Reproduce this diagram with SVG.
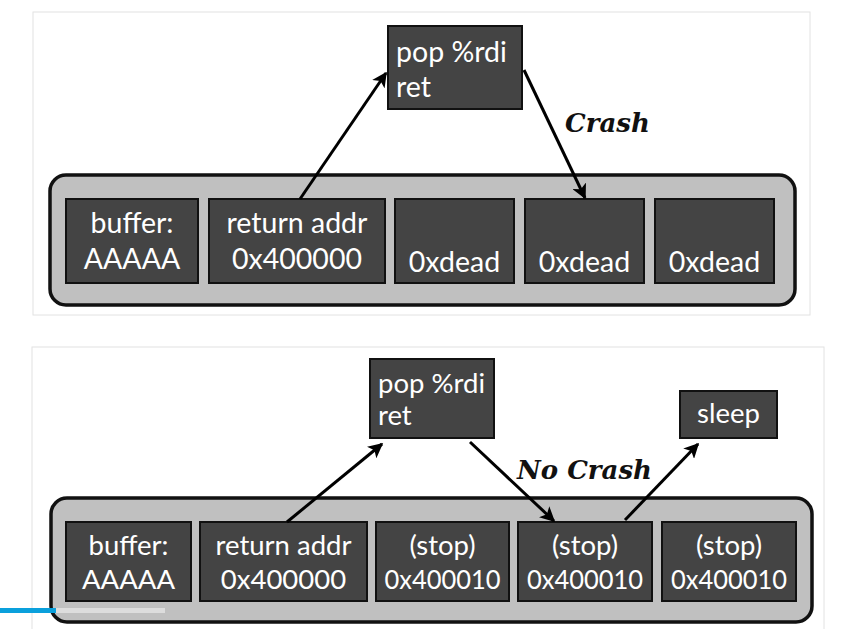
<svg xmlns="http://www.w3.org/2000/svg" width="859" height="629" viewBox="0 0 859 629">
<defs>
<style>
.card{fill:#ffffff;stroke:#e2e2e2;stroke-width:1}
.stack{fill:#c0c0c0;stroke:#111;stroke-width:3.5}
.box{fill:#444444;stroke:#111;stroke-width:2}
.t{font-family:Lato,"Open Sans",sans-serif;font-size:28.5px;fill:#ffffff}
.b{font-size:27.5px}
.c{text-anchor:middle}
.edge{stroke:#000;stroke-width:3;fill:none;marker-end:url(#ah)}
.lbl{font-family:"DejaVu Serif",serif;font-style:italic;font-weight:bold;font-size:26px;fill:#111}
</style>
<marker id="ah" viewBox="0 0 10 10" refX="9" refY="5" markerWidth="5" markerHeight="5" orient="auto" markerUnits="strokeWidth">
<path d="M0,0 L10,5 L0,10 L2.5,5 z" fill="#000"/>
</marker>
</defs>
<rect width="859" height="629" fill="#ffffff"/>
<rect class="card" x="33" y="12" width="777" height="303"/>
<rect class="card" x="32" y="347" width="792" height="290"/>

<!-- top diagram -->
<g id="stack1"><rect class="stack" x="50" y="175" width="745" height="130" rx="16"/></g>
<g id="t_buffer"><rect class="box" x="66" y="199" width="132" height="84"/><text class="t c" x="132" y="233">buffer:</text><text class="t c" x="132" y="269">AAAAA</text></g>
<g id="t_ret"><rect class="box" x="209" y="199" width="176" height="84"/><text class="t c" x="297" y="233">return addr</text><text class="t c" x="297" y="269">0x400000</text></g>
<g id="t_dead1"><rect class="box" x="395" y="199" width="119" height="84"/><text class="t c" x="454.5" y="272">0xdead</text></g>
<g id="t_dead2"><rect class="box" x="525" y="199" width="119" height="84"/><text class="t c" x="584.5" y="272">0xdead</text></g>
<g id="t_dead3"><rect class="box" x="655" y="199" width="119" height="84"/><text class="t c" x="714.5" y="272">0xdead</text></g>
<g id="t_pop"><rect class="box" x="388" y="26" width="134" height="83"/><text class="t" x="396" y="62">pop %rdi</text><text class="t" x="396" y="97">ret</text></g>

<!-- bottom diagram -->
<g id="stack2"><rect class="stack" x="51" y="498" width="761" height="124" rx="16"/></g>
<g id="b_buffer"><rect class="box" x="66" y="522" width="125" height="79"/><text class="t b c" x="128.5" y="555">buffer:</text><text class="t b c" x="128.5" y="589">AAAAA</text></g>
<g id="b_ret"><rect class="box" x="200" y="522" width="167" height="79"/><text class="t b c" x="283.5" y="555">return addr</text><text class="t b c" x="283.5" y="589">0x400000</text></g>
<g id="b_stop1"><rect class="box" x="376" y="522" width="133" height="79"/><text class="t b c" x="442.5" y="555">(stop)</text><text class="t b c" x="442.5" y="589" textLength="116" lengthAdjust="spacingAndGlyphs">0x400010</text></g>
<g id="b_stop2"><rect class="box" x="518" y="522" width="134" height="79"/><text class="t b c" x="585" y="555">(stop)</text><text class="t b c" x="585" y="589" textLength="116" lengthAdjust="spacingAndGlyphs">0x400010</text></g>
<g id="b_stop3"><rect class="box" x="662" y="522" width="134" height="79"/><text class="t b c" x="729" y="555">(stop)</text><text class="t b c" x="729" y="589" textLength="116" lengthAdjust="spacingAndGlyphs">0x400010</text></g>
<g id="b_pop"><rect class="box" x="370" y="359" width="124" height="79"/><text class="t b" x="378" y="393">pop %rdi</text><text class="t b" x="378" y="425">ret</text></g>
<g id="b_sleep"><rect class="box" x="680" y="391" width="97" height="47"/><text class="t b c" x="728.5" y="423">sleep</text></g>

<g id="connectors">
<line class="edge" x1="300" y1="199" x2="386" y2="73"/>
<line class="edge" x1="524" y1="70" x2="585" y2="198"/>
<line class="edge" x1="287" y1="522" x2="382" y2="444"/>
<line class="edge" x1="470" y1="442" x2="554" y2="521"/>
<line class="edge" x1="625" y1="520" x2="698" y2="444"/>
</g>
<text class="lbl" x="565" y="132">Crash</text>
<text class="lbl" x="517" y="479">No Crash</text>

<rect x="0" y="608" width="165" height="5" fill="#dddddd"/>
<rect x="0" y="608" width="56" height="5" fill="#0aa0dc"/>
</svg>
